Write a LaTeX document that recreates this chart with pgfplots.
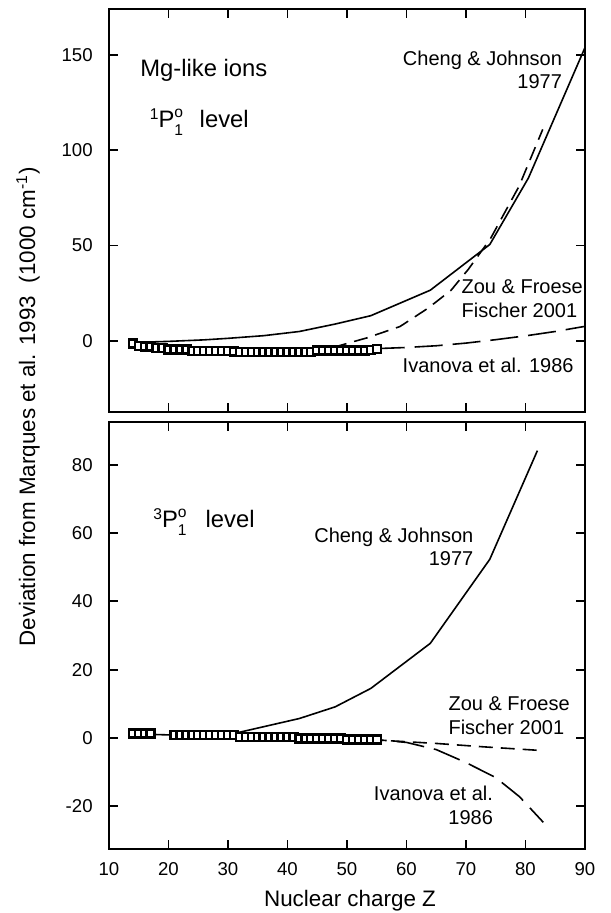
\documentclass[border=0pt]{standalone}
\usepackage{pgfplots}
\pgfplotsset{compat=1.18}
\usepackage{fontspec}
\setmainfont{Liberation Sans}
\newcommand{\lvl}[2]{\raisebox{4pt}{\fontsize{7.8}{8}\selectfont #1}P\rlap{\raisebox{4.8pt}{\fontsize{7.8}{8}\selectfont o}}\raisebox{-4pt}{\fontsize{7.8}{8}\selectfont 1}\hspace{#2}level}
\tikzset{
  ann/.style={inner sep=0pt, font=\fontsize{10}{11.6}\selectfont},
  big/.style={inner sep=0pt, font=\fontsize{11.9}{13}\selectfont},
}
\begin{document}
\begin{tikzpicture}
\useasboundingbox (0,0) rectangle (305pt,456.5pt);
\pgfplotsset{
  every axis/.append style={
    scale only axis, width=238pt, xmin=10, xmax=90,
    xtick={10,20,...,90}, tick align=inside, major tick length=4.5pt,
    tick pos=both,
    axis line style={line width=1pt},
    tick style={line width=0.9pt, black},
    /pgf/number format/assume math mode=true,
    tick label style={font=\fontsize{9.3}{10}\selectfont},
    yticklabel style={inner sep=0pt, xshift=-8pt},
    xticklabel style={inner sep=0pt, yshift=-6.5pt},
  },
  cj/.style={black, line width=0.8pt},
  zou/.style={black, line width=0.8pt, dash pattern=on 7pt off 4pt},
  iva/.style={black, line width=0.8pt, dash pattern=on 14pt off 5pt},
  sq/.style={black, only marks, mark=square*, mark size=2pt, mark options={line width=1.2pt, fill=white, solid}},
}
% ---------------- top panel ----------------
\begin{axis}[at={(54.5pt,250.5pt)}, anchor=south west, height=201.25pt,
  ymin=-37.5, ymax=174, ytick={0,50,100,150}, xticklabels={}]
\addplot[cj] coordinates {(16,-0.8) (20,-0.4) (26,0.4) (30,1.2) (36,2.6) (42,4.8) (48,8.7) (54,13.1) (64,26.5) (74,50.5) (80.5,85.5) (90,154)};
\addplot[zou] coordinates {(44,-5.5) (47,-4.2) (50,-1.5) (53.3,1.4) (58.9,7.4) (63.6,17) (67.5,26.5) (70.4,37.5) (74.1,53.5) (78.9,81) (82.9,111)};
\addplot[iva] coordinates {(55,-4.2) (60,-3.6) (65,-2.7) (70,-1.3) (75,0.5) (80,2.5) (85,4.8) (90,7.5)};
\addplot[sq] coordinates {(14,-1.5) (15,-2.8) (16,-3.0) (17,-3.0) (18,-3.8) (19,-4.0) (20,-4.6) (21,-4.7) (22,-4.7) (23,-4.7) (24,-5.3) (25,-5.4) (26,-5.5) (27,-5.5) (28,-5.6) (29,-5.6) (30,-5.6) (31,-5.7) (32,-6.1) (33,-6.1) (34,-6.1) (35,-6.1) (36,-6.1) (37,-6.1) (38,-6.1) (39,-6.1) (40,-6.1) (41,-6.1) (42,-6.1) (43,-6.1) (44,-6.1) (45,-5.2) (46,-5.2) (47,-5.2) (48,-5.2) (49,-5.2) (50,-5.2) (51,-5.2) (52,-5.2) (53,-5.2) (54,-4.8) (55,-4.4)};
\node[big, anchor=base west] at (axis cs:15.2,138.7) {Mg-like ions};
\node[big, anchor=base west] at (axis cs:16.8,112.1) {\lvl{1}{0.7em}};
\node[ann, anchor=east, align=right] at (axis cs:86.2,142.3) {Cheng \& Johnson\\1977};
\node[ann, anchor=west, align=left] at (axis cs:69.2,22) {Zou \& Froese\\Fischer 2001};
\node[ann, anchor=west] at (axis cs:59.3,-13) {Ivanova et al. 1986};
\end{axis}
% ---------------- bottom panel ----------------
\begin{axis}[at={(54.5pt,32pt)}, anchor=south west, height=213.5pt,
  ymin=-32.5, ymax=92.5, ytick={-20,0,20,40,60,80}]
\addplot[cj] coordinates {(14,1.2) (20,0.9) (26,0.9) (32,1.7) (42,5.7) (48,9.1) (54,14.5) (64,27.7) (74,52.3) (82,84.1)};
\addplot[zou] coordinates {(50,-0.4) (56,-0.7) (65,-1.6) (73,-2.6) (82,-3.6)};
\addplot[iva, dash phase=9pt] coordinates {(55,-0.5) (60,-1.3) (65,-3.4) (70,-7.2) (75,-11.6) (79,-17.2) (83,-24.7)};
\addplot[sq] coordinates {(14,1.3) (15,1.3) (16,1.3) (17,1.3) (21,0.8) (22,0.8) (23,0.8) (24,0.8) (25,0.8) (26,0.8) (27,0.8) (28,0.8) (29,0.8) (30,0.8) (31,0.8) (32,0.3) (33,0.3) (34,0.3) (35,0.3) (36,0.3) (37,0.3) (38,0.3) (39,0.3) (40,0.3) (41,0.3) (42,-0.2) (43,-0.2) (44,-0.2) (45,-0.2) (46,-0.2) (47,-0.2) (48,-0.2) (49,-0.2) (50,-0.5) (51,-0.5) (52,-0.5) (53,-0.5) (54,-0.5) (55,-0.5)};
\node[big, anchor=base west] at (axis cs:17.4,61.7) {\lvl{3}{0.8em}};
\node[ann, anchor=east, align=right] at (axis cs:71.3,56) {Cheng \& Johnson\\1977};
\node[ann, anchor=west, align=left] at (axis cs:67,6.5) {Zou \& Froese\\Fischer 2001};
\node[ann, anchor=east, align=right] at (axis cs:74.6,-19.7) {Ivanova et al.\\1986};
\end{axis}
\node[anchor=base, inner sep=0pt, font=\fontsize{11.2}{12}\selectfont] at (175pt,3pt) {Nuclear charge Z};
\node[anchor=base, rotate=90, inner sep=0pt, font=\fontsize{11.2}{13}\selectfont] at (17.5pt,253pt) {Deviation from Marques et al. 1993\ \ (1000 cm\textsuperscript{-1})};
\end{tikzpicture}
\end{document}
